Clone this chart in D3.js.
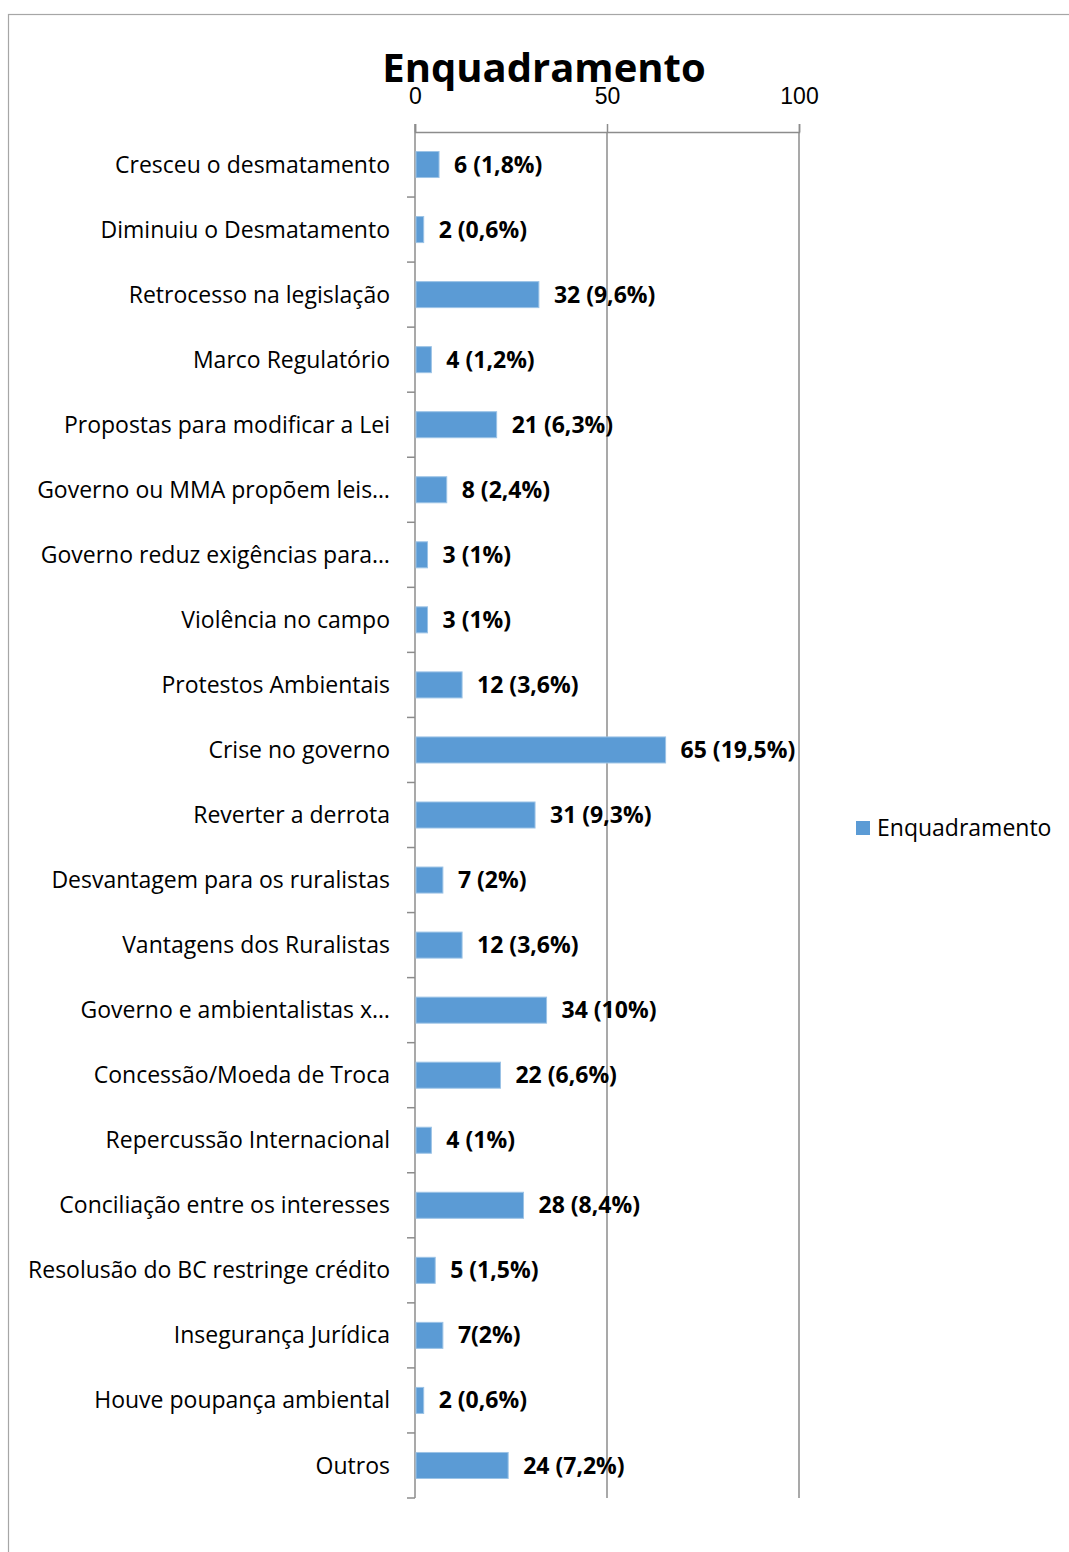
<!DOCTYPE html>
<html>
<head>
<meta charset="utf-8">
<script src="https://cdn.jsdelivr.net/npm/d3@7"></script>
<style>
  body { margin: 0; background: #fff; }
  svg { display: block; font-family: "Open Sans", "Noto Sans", sans-serif; }
</style>
</head>
<body>
<div id="chart"></div>
<script>
// Enquadramento - horizontal bar chart

var categories = [
  "Cresceu o desmatamento",
  "Diminuiu o Desmatamento",
  "Retrocesso na legislação",
  "Marco Regulatório",
  "Propostas para modificar a Lei",
  "Governo ou MMA propõem leis…",
  "Governo reduz exigências para…",
  "Violência no campo",
  "Protestos Ambientais",
  "Crise no governo",
  "Reverter a derrota",
  "Desvantagem para os ruralistas",
  "Vantagens dos Ruralistas",
  "Governo e ambientalistas x…",
  "Concessão/Moeda de Troca",
  "Repercussão Internacional",
  "Conciliação entre os interesses",
  "Resolusão do BC restringe crédito",
  "Insegurança Jurídica",
  "Houve poupança ambiental",
  "Outros"
];
var values = [6, 2, 32, 4, 21, 8, 3, 3, 12, 65, 31, 7, 12, 34, 22, 4, 28, 5, 7, 2, 24];
var valueLabels = [
  "6 (1,8%)", "2 (0,6%)", "32 (9,6%)", "4 (1,2%)", "21 (6,3%)", "8 (2,4%)",
  "3 (1%)", "3 (1%)", "12 (3,6%)", "65 (19,5%)", "31 (9,3%)", "7 (2%)",
  "12 (3,6%)", "34 (10%)", "22 (6,6%)", "4 (1%)", "28 (8,4%)", "5 (1,5%)",
  "7(2%)", "2 (0,6%)", "24 (7,2%)"
];
var xTicks = [0, 50, 100];
var seriesName = "Enquadramento";

var totwidth = 1069, totheight = 1552;
var plot = {left: 415, top: 132, right: 799, bottom: 1498};
var barColor = "#5b9bd5", gridColor = "#8c8c8c";

var svg = d3.select("#chart").append("svg")
    .attr("width", totwidth)
    .attr("height", totheight);

// outer chart border
svg.append("rect")
    .attr("x", 8.5).attr("y", 14.5)
    .attr("width", totwidth + 20).attr("height", totheight + 20)
    .attr("fill", "none")
    .attr("stroke", "#a6a6a6")
    .attr("stroke-width", 1.2);

var x = d3.scaleLinear().domain([0, 100]).range([plot.left, plot.right]);
var y = d3.scaleBand().domain(categories).range([plot.top, plot.bottom]).paddingInner(0.6).paddingOuter(0.3);

// title
svg.append("text")
    .attr("x", 544).attr("y", 82)
    .attr("text-anchor", "middle")
    .style("font-size", "40px")
    .style("font-weight", "bold")
    .text(seriesName);

// vertical gridlines
svg.append("g").selectAll("line")
    .data(xTicks.slice(1))
    .enter().append("line")
    .attr("x1", function(d) { return x(d); })
    .attr("x2", function(d) { return x(d); })
    .attr("y1", plot.top).attr("y2", plot.bottom)
    .attr("stroke", gridColor).attr("stroke-width", 1.5);

// top axis
var xAxis = svg.append("g")
    .attr("transform", "translate(0," + plot.top + ")")
    .call(d3.axisTop(x).tickValues(xTicks).tickSize(8).tickPadding(20));
xAxis.select(".domain").attr("stroke", gridColor).attr("stroke-width", 1.5);
xAxis.selectAll(".tick line").attr("stroke", gridColor).attr("stroke-width", 1.5);
xAxis.selectAll(".tick text")
    .style("font-size", "23px")
    .attr("fill", "#000");

// left category axis with ticks at band boundaries
var bounds = d3.range(categories.length + 1).map(function(i) { return plot.top + i * (plot.bottom - plot.top) / categories.length; });
svg.append("line")
    .attr("x1", plot.left).attr("x2", plot.left)
    .attr("y1", plot.top - 8).attr("y2", plot.bottom)
    .attr("stroke", gridColor).attr("stroke-width", 1.5);
svg.append("g").selectAll("line")
    .data(bounds.slice(1))
    .enter().append("line")
    .attr("x1", plot.left - 8).attr("x2", plot.left)
    .attr("y1", function(d) { return d; })
    .attr("y2", function(d) { return d; })
    .attr("stroke", gridColor).attr("stroke-width", 1.5);

// category labels
svg.append("g").selectAll("text")
    .data(categories)
    .enter().append("text")
    .attr("x", plot.left - 25)
    .attr("y", function(d) { return y(d) + y.bandwidth() / 2; })
    .attr("dy", "0.35em")
    .attr("text-anchor", "end")
    .style("font-size", "23px")
    .text(function(d) { return d; });

// bars
svg.append("g").selectAll("rect")
    .data(values)
    .enter().append("rect")
    .attr("x", x(0) + 1)
    .attr("y", function(d, i) { return y(categories[i]); })
    .attr("width", function(d) { return x(d) - x(0); })
    .attr("height", y.bandwidth())
    .attr("fill", barColor)
    .attr("stroke", "#9cc3e6")
    .attr("stroke-width", 1);

// value labels
svg.append("g").selectAll("text")
    .data(values)
    .enter().append("text")
    .attr("x", function(d) { return x(d) + 16; })
    .attr("y", function(d, i) { return y(categories[i]) + y.bandwidth() / 2; })
    .attr("dy", "0.35em")
    .style("font-size", "23px")
    .style("font-weight", "bold")
    .text(function(d, i) { return valueLabels[i]; });

// legend
var legend = svg.append("g").attr("transform", "translate(856,821)");
legend.append("rect")
    .attr("width", 14).attr("height", 14)
    .attr("fill", barColor);
legend.append("text")
    .attr("x", 21).attr("y", 7)
    .attr("dy", "0.35em")
    .style("font-size", "23px")
    .text(seriesName);
</script>
</body>
</html>
